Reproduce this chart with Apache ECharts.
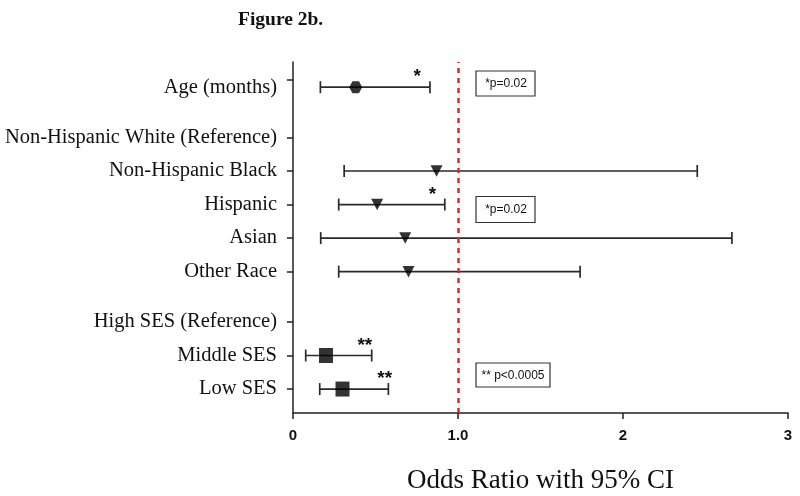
<!DOCTYPE html>
<html>
<head>
<meta charset="utf-8">
<script src="https://cdn.jsdelivr.net/npm/echarts@6/dist/echarts.min.js"></script>
<style>html,body{margin:0;padding:0;background:#fff}#chart{width:800px;height:496px}</style>
</head>
<body>
<div id="chart"></div>
<script>
// ---- data ----
const categories = ['Age (months)', 'Non-Hispanic White (Reference)', 'Non-Hispanic Black', 'Hispanic', 'Asian', 'Other Race', 'High SES (Reference)', 'Middle SES', 'Low SES'];
const rowPos = [9, 7.5, 6.5, 5.5, 4.5, 3.5, 2, 1, 0];
const oddsRatio = [0.38, null, 0.87, 0.51, 0.68, 0.70, null, 0.20, 0.30];
const ciLower = [0.166, null, 0.31, 0.277, 0.168, 0.277, null, 0.077, 0.162];
const ciUpper = [0.83, null, 2.45, 0.92, 2.66, 1.74, null, 0.477, 0.578];
const markerShape = ['hexagon', '', 'triangle', 'triangle', 'triangle', 'triangle', '', 'square', 'square'];
const sigStars = ['*', '', '', '*', '', '', '', '**', '**'];
const starX = [0.752, null, null, 0.845, null, null, null, 0.435, 0.556];
const xTickLabels = ['0', '1.0', '2', '3'];
const referenceOR = 1.0;
const noteTexts = ['*p=0.02', '*p=0.02', '** p<0.0005'];

// ---- build ----
const chart = echarts.init(document.getElementById('chart'), null, {renderer: 'canvas'});
const serif = '"Liberation Serif", "DejaVu Serif", serif';
const sans = '"Liberation Sans", Arial, sans-serif';

const ciData = [], starData = [];
const shapeData = {hexagon: [], triangle: [], square: []};
categories.forEach((c, i) => {
  if (oddsRatio[i] != null) {
    ciData.push([ciLower[i], ciUpper[i], rowPos[i]]);
    shapeData[markerShape[i]].push([oddsRatio[i], rowPos[i]]);
  }
  if (sigStars[i]) starData.push([starX[i], rowPos[i], sigStars[i]]);
});

const tickPos = rowPos.map((p, i) => i === 0 ? p + 0.23 : p);

const option = {
  backgroundColor: '#fff',
  animation: false,
  title: {
    text: 'Figure 2b.', left: 233, top: 5,
    textStyle: {fontFamily: serif, fontWeight: 'bold', fontSize: 19.5, color: '#111'}
  },
  grid: {left: 293, right: 12, top: 62, bottom: 83, containLabel: false, outerBoundsMode: 'none'},
  xAxis: {
    type: 'value', min: 0, max: 3, interval: 1,
    name: 'Odds Ratio with 95% CI', nameLocation: 'middle', nameGap: 54,
    nameTextStyle: {fontFamily: serif, fontSize: 27, color: '#111'},
    axisLine: {show: true, onZero: false, lineStyle: {color: '#222', width: 1.5}},
    axisTick: {show: true, length: 6, lineStyle: {color: '#222', width: 1.5}},
    axisLabel: {
      margin: 15, fontFamily: sans, fontWeight: 'bold', fontSize: 15, color: '#111',
      formatter: v => xTickLabels[Math.round(v)]
    },
    splitLine: {show: false}
  },
  yAxis: {
    type: 'value', min: -0.714, max: 9.75,
    axisLine: {show: true, onZero: false, lineStyle: {color: '#222', width: 1.5}},
    axisTick: {show: true, length: 6, customValues: tickPos, lineStyle: {color: '#222', width: 1.5}},
    axisLabel: {
      customValues: rowPos, margin: 16, fontFamily: serif, fontSize: 20.5, color: '#111',
      formatter: v => {
        const i = rowPos.findIndex(p => Math.abs(p - v) < 1e-6);
        return i >= 0 ? categories[i] : '';
      }
    },
    splitLine: {show: false}
  },
  series: [
    {
      type: 'custom', name: 'CI', data: ciData, z: 2,
      renderItem: (params, api) => {
        const a = api.coord([api.value(0), api.value(2)]);
        const b = api.coord([api.value(1), api.value(2)]);
        const h = 6;
        const st = {stroke: '#2a2a2a', lineWidth: 1.7};
        return {type: 'group', children: [
          {type: 'line', shape: {x1: a[0], y1: a[1], x2: b[0], y2: b[1]}, style: st},
          {type: 'line', shape: {x1: a[0], y1: a[1] - h, x2: a[0], y2: a[1] + h}, style: st},
          {type: 'line', shape: {x1: b[0], y1: b[1] - h, x2: b[0], y2: b[1] + h}, style: st}
        ]};
      },
      markLine: {
        silent: true, symbol: 'none', label: {show: false},
        lineStyle: {color: '#e0282a', width: 2.5, type: [5, 5]},
        data: [{xAxis: referenceOR}]
      }
    },
    {
      type: 'scatter', name: 'hex', data: shapeData.hexagon, z: 3,
      symbol: 'path://M3,0 L9,0 L12,5.5 L9,11 L3,11 L0,5.5 Z', symbolSize: [13, 12],
      itemStyle: {color: '#000'}
    },
    {
      type: 'scatter', name: 'tri', data: shapeData.triangle, z: 3,
      symbol: 'triangle', symbolRotate: 180, symbolSize: [12, 11.5],
      itemStyle: {color: '#000'}
    },
    {
      type: 'scatter', name: 'sq', data: shapeData.square, z: 3,
      symbol: 'rect', symbolSize: [14, 15],
      itemStyle: {color: '#000'}
    },
    {
      type: 'custom', name: 'stars', data: starData, z: 4,
      renderItem: (params, api) => {
        const p = api.coord([api.value(0), api.value(1)]);
        return {type: 'text', style: {
          text: starData[params.dataIndex][2], x: p[0], y: p[1] - 10,
          align: 'center', verticalAlign: 'middle',
          font: 'bold 19px "Liberation Sans", Arial, sans-serif', fill: '#111'
        }};
      }
    }
  ],
  graphic: [
    {type: 'rect', shape: {x: 476, y: 71, width: 59, height: 25}, style: {fill: '#fff', stroke: '#333', lineWidth: 1.2}},
    {type: 'text', x: 506, y: 84, style: {text: noteTexts[0], align: 'center', verticalAlign: 'middle', font: '12px "Liberation Sans", Arial, sans-serif', fill: '#111'}},
    {type: 'rect', shape: {x: 476, y: 196.5, width: 59, height: 26}, style: {fill: '#fff', stroke: '#333', lineWidth: 1.2}},
    {type: 'text', x: 506, y: 210, style: {text: noteTexts[1], align: 'center', verticalAlign: 'middle', font: '12px "Liberation Sans", Arial, sans-serif', fill: '#111'}},
    {type: 'rect', shape: {x: 476, y: 363, width: 74, height: 24}, style: {fill: '#fff', stroke: '#333', lineWidth: 1.2}},
    {type: 'text', x: 513, y: 375.5, style: {text: noteTexts[2], align: 'center', verticalAlign: 'middle', font: '12px "Liberation Sans", Arial, sans-serif', fill: '#111'}}
  ]
};
chart.setOption(option);
</script>
</body>
</html>
